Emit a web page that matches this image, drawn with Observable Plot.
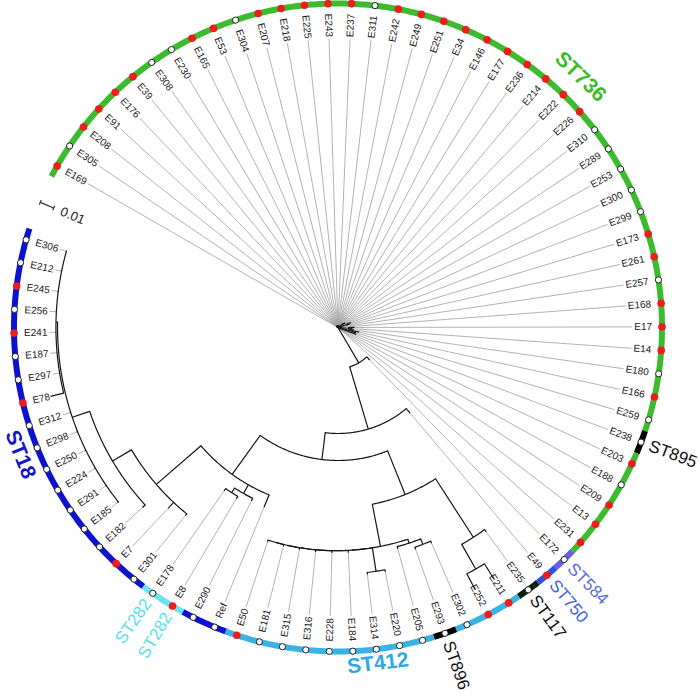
<!DOCTYPE html>
<html><head><meta charset="utf-8">
<script src="https://cdn.jsdelivr.net/npm/d3@7"></script>
<script src="https://cdn.jsdelivr.net/npm/@observablehq/plot@0.6"></script>
<style>html,body{margin:0;padding:0;background:#fff}#chart svg{display:block}</style>
</head><body><div id="chart"></div>
<script>
// ---------------- DATA ----------------
// Tree (Newick, branch lengths in substitutions/site), leaves in clockwise order
const newick = "(" +
 "(E169:0.0010,E305:0.0007,E208:0.0012,E91:0.0008,E176:0.0010,E39:0.0006,E308:0.0009,E230:0.0007,E165:0.0011,E53:0.0008,E304:0.0010,E207:0.0006,E218:0.0009,E225:0.0012,E243:0.0007,E237:0.0010,E311:0.0008,E242:0.0011,E249:0.0007,E251:0.0009,E34:0.0012,E146:0.0008,E177:0.0010,E236:0.0007,E214:0.0009,E222:0.0011,E226:0.0008,(E310:0.0015,E289:0.0025):0.0030,E253:0.0012,E300:0.0015,(E299:0.0030,E173:0.0020):0.0060,E261:0.0020,E257:0.0015,E168:0.0025,(E17:0.0040,E14:0.0025,E180:0.0035):0.0070,(E166:0.0050,E259:0.0030):0.0095,E238:0.0130,E203:0.0020,E188:0.0015,E209:0.0012,E13:0.0010,E231:0.0008):0.0004," +
 "(E172:0.0030,(E49:0.0040,(" +
   "((E235:0.0020,(E211:0.0123,E252:0.0123):0.0194):0.0477," +
    "(((E302:0.0015,E293:0.0015):0.0040,E205:0.0015):0.0028," +
     "((E220:0.0015,E314:0.0015):0.0162,(E184:0.0016,(E228:0.0015,(E316:0.0014,(E315:0.0013,(E181:0.0012,E50:0.0012):0.0001):0.0001):0.0001):0.0001):0.0001):0.0001" +
    "):0.0294" +
   "):0.0322," +
   "(Ref:0.0090,(E290:0.0020,(E8:0.0020,E178:0.0020):0.0037):0.0068," +
    "(E301:0.0016,E7:0.0056,(E182:0.0025,(E185:0.0007,E291:0.0007,E224:0.0007,E250:0.0007,E298:0.0007,E312:0.0007," +
     "(E78:0.0093,E297:0.0003,E187:0.0003,E241:0.0003,E256:0.0003,E245:0.0003,E212:0.0003,E306:0.0003):0.0011):0.0126):0.0151):0.0404" +
   "):0.0329" +
 "):0.0185):0.0445):0.0281" +
 ");";

// isolates marked with a red dot (all others: open dot)
const redLeaves = ["E169","E208","E91","E176","E39","E165","E53","E207","E218","E225","E243","E237","E242","E249","E251","E34","E146","E177","E236","E214","E222","E226","E173","E261","E168","E17","E14","E166","E203","E209","E13","E231","E49","E211","E252","E50","E8","E7","E78","E241","E245"];

// sequence types around the ring, as runs of consecutive leaves (clockwise)
const stRunName  = ["ST736","ST895","ST736","ST584","ST750","ST117","ST412","ST896","ST412","ST18","ST282","ST18"];
const stRunCount = [41, 1, 5, 1, 1, 1, 3, 1, 9, 2, 2, 17];

const stNames      = ["ST736","ST895","ST584","ST750","ST117","ST412","ST896","ST18","ST282"];
const stBandColor  = ["#3dbb2f","#000000","#6a5fe6","#2f52e6","#0b200b","#3bb2e6","#000000","#0c12cf","#6fe3f2"];
const stLabelColor = ["#3cbc2c","#111111","#5a6ad6","#3c63dd","#111111","#2fa9de","#111111","#1416c6","#56dff0"];

// ST labels and the leaf each one sits beside
const stLabelText = ["ST736","ST895","ST584","ST750","ST117","ST896","ST412","ST282","ST282","ST18"];
const stLabelLeaf = ["E222","E238","E172","E49","E235","E293","E314","E178","E8","E298"];

const scaleBarValue = 0.01;

// ---------------- LAYOUT / STYLE ----------------
const W = 700, H = 696;
const CX = 337.5, CY = 327;           // circle centre (px)
const PX = 1460;                      // px per substitution/site
const RING_PX = 324, LABEL_PX = 314;
const START_ANGLE = -150.1, GAP = 14.2;
const FONT = "'Liberation Sans', Arial, Helvetica, sans-serif";
const stLabelStyle = [
  {mode:"tangent", r:349, size:21, weight:"bold"},
  {mode:"radial",  r:333, size:17, weight:"normal"},
  {mode:"radial",  r:333, size:17, weight:"normal"},
  {mode:"radial",  r:333, size:17, weight:"normal"},
  {mode:"radial",  r:333, size:17, weight:"normal"},
  {mode:"radial",  r:333, size:17, weight:"normal"},
  {mode:"tangent", r:338, size:21, weight:"bold"},
  {mode:"radial",  r:333, size:17, weight:"normal"},
  {mode:"radial",  r:333, size:17, weight:"normal"},
  {mode:"tangent", r:342, size:21, weight:"bold"}
];

// ---------------- BUILD ----------------
function parseNewick(s) {
  s = s.replace(/\s+/g, "");
  let i = 0;
  function node() {
    const n = {children: []};
    if (s[i] === "(") {
      i++;
      n.children.push(node());
      while (s[i] === ",") { i++; n.children.push(node()); }
      i++; // ')'
    }
    let name = "";
    while (i < s.length && !",():;".includes(s[i])) name += s[i++];
    n.name = name;
    n.len = 0;
    if (s[i] === ":") {
      i++; let num = "";
      while (i < s.length && !",();".includes(s[i])) num += s[i++];
      n.len = +num;
    }
    return n;
  }
  return node();
}
const root = parseNewick(newick);
const leaves = [];
(function collect(n){ if (!n.children.length) leaves.push(n); else n.children.forEach(collect); })(root);
const STEP = (360 - GAP) / (leaves.length - 1);
const all = [];
let li = 0;
(function lay(n, d, parent){
  n.depth = d + n.len; n.parent = parent;
  if (!n.children.length) { n.angle = START_ANGLE + STEP * (li++); }
  else { n.children.forEach(c => lay(c, n.depth, n)); n.angle = (n.children[0].angle + n.children[n.children.length-1].angle) / 2; }
  all.push(n);
})(root, 0, null);

const rad = a => a * Math.PI / 180;
const P = (r, a) => [r * Math.cos(rad(a)), r * Math.sin(rad(a))];

const leafIndex = new Map(leaves.map((l, k) => [l.name, k]));

// branches
const radials = all.filter(n => n.parent).map(n => {
  const [x1, y1] = P(n.parent.depth, n.angle), [x2, y2] = P(n.depth, n.angle);
  return {x1, y1, x2, y2};
});
const arcPts = [];
all.filter(n => n.children.length && n.depth > 0).forEach((n, k) => {
  const a0 = n.children[0].angle, a1 = n.children[n.children.length-1].angle;
  const m = Math.max(2, Math.ceil(Math.abs(a1 - a0) / 0.5));
  for (let j = 0; j <= m; j++) { const [x, y] = P(n.depth, a0 + (a1 - a0) * j / m); arcPts.push({id: k, x, y}); }
});

// labels & leader lines
const ctx = document.createElement("canvas").getContext("2d");
ctx.font = "10px " + FONT;
const norm = a => ((a + 180) % 360 + 360) % 360 - 180;
const leaders = [], labR = [], labL = [];
leaves.forEach(l => {
  const w = ctx.measureText(l.name).width;
  const rEnd = (LABEL_PX - w - 2) / PX;
  if (rEnd > l.depth) { const [x1, y1] = P(l.depth, l.angle), [x2, y2] = P(rEnd, l.angle); leaders.push({x1, y1, x2, y2}); }
  const [x, y] = P(LABEL_PX / PX, l.angle);
  const a = norm(l.angle);
  if (a > -90 && a < 90) labR.push({x, y, t: l.name, rot: a});
  else labL.push({x, y, t: l.name, rot: a + 180});
});

// ring band
const bandPts = [];
let start = 0;
stRunName.forEach((s, k) => {
  const i0 = start, i1 = start + stRunCount[k] - 1; start += stRunCount[k];
  const a0 = leaves[i0].angle - STEP / 2, a1 = leaves[i1].angle + STEP / 2;
  const m = Math.max(2, Math.ceil((a1 - a0) / 0.5));
  const col = stBandColor[stNames.indexOf(s)];
  for (let j = 0; j <= m; j++) { const [x, y] = P(RING_PX / PX, a0 + (a1 - a0) * j / m); bandPts.push({run: k, x, y, col}); }
});

// dots
const redSet = new Set(redLeaves);
const dots = leaves.map(l => { const [x, y] = P(RING_PX / PX, l.angle); return {x, y, red: redSet.has(l.name)}; });

// ST labels
const stMarks = stLabelText.map((t, k) => {
  const st = stLabelStyle[k];
  const a = norm(leaves[leafIndex.get(stLabelLeaf[k])].angle);
  const [x, y] = P(st.r / PX, a);
  const color = stLabelColor[stNames.indexOf(t)];
  let rot, anchor;
  if (st.mode === "tangent") { rot = Math.sin(rad(a)) < 0 ? a + 90 : a - 90; anchor = "middle"; }
  else if (a > -90 && a < 90) { rot = a; anchor = "start"; }
  else { rot = a + 180; anchor = "end"; }
  return Plot.text([{x, y}], {x: "x", y: "y", text: [t], rotate: rot, textAnchor: anchor, fill: color,
    fontSize: st.size, fontWeight: st.weight, fontFamily: FONT});
});

// scale bar (radial, in the gap)
const gapA = START_ANGLE - GAP / 2;
const rOut = (RING_PX - 1) / PX, rIn = rOut - scaleBarValue;
const tick = 2.5 / PX;
const sb = [];
{
  const [xa, ya] = P(rIn, gapA), [xb, yb] = P(rOut, gapA);
  sb.push({x1: xa, y1: ya, x2: xb, y2: yb});
  const tx = -Math.sin(rad(gapA)) * tick, ty = Math.cos(rad(gapA)) * tick;
  sb.push({x1: xa - tx, y1: ya - ty, x2: xa + tx, y2: ya + ty});
  sb.push({x1: xb - tx, y1: yb - ty, x2: xb + tx, y2: yb + ty});
}
const [sbx, sby] = P(288 / PX, gapA);

const chart = Plot.plot({
  width: W, height: H, margin: 0,
  x: {domain: [-CX / PX, (W - CX) / PX], range: [0, W], axis: null},
  y: {domain: [-CY / PX, (H - CY) / PX], range: [0, H], axis: null},
  color: {type: "identity"},
  style: {background: "#fff"},
  marks: [
    Plot.link(leaders, {x1: "x1", y1: "y1", x2: "x2", y2: "y2", stroke: "#a0a0a0", strokeWidth: 0.8}),
    Plot.link(radials, {x1: "x1", y1: "y1", x2: "x2", y2: "y2", stroke: "#151515", strokeWidth: 1.2}),
    Plot.line(arcPts, {x: "x", y: "y", z: "id", stroke: "#151515", strokeWidth: 1.2}),
    Plot.line(bandPts, {x: "x", y: "y", z: "run", stroke: "col", strokeWidth: 6, strokeLinecap: "butt"}),
    Plot.dot(dots.filter(d => !d.red), {x: "x", y: "y", r: 3.1, fill: "#fff", stroke: "#222", strokeWidth: 1}),
    Plot.dot(dots.filter(d => d.red), {x: "x", y: "y", r: 3.8, fill: "#ee1c1c"}),
    Plot.text(labR, {x: "x", y: "y", text: "t", rotate: "rot", textAnchor: "end", fontSize: 10, fill: "#1a1a1a", fontFamily: FONT}),
    Plot.text(labL, {x: "x", y: "y", text: "t", rotate: "rot", textAnchor: "start", fontSize: 10, fill: "#1a1a1a", fontFamily: FONT}),
    ...stMarks,
    Plot.link(sb, {x1: "x1", y1: "y1", x2: "x2", y2: "y2", stroke: "#333", strokeWidth: 1.2}),
    Plot.text([{x: sbx, y: sby}], {x: "x", y: "y", text: [String(scaleBarValue)], rotate: gapA + 180, fontSize: 13, fill: "#222", fontFamily: FONT})
  ]
});
document.getElementById("chart").appendChild(chart);
</script>
</body></html>
